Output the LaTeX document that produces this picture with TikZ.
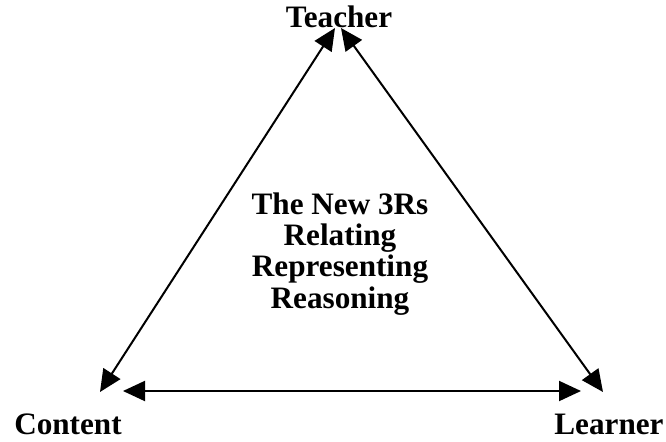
\documentclass[tikz,border=0pt]{standalone}
\usepackage{fontspec}
\setmainfont{Liberation Serif}
\usetikzlibrary{arrows.meta}
\begin{document}
\begin{tikzpicture}[x=0.5pt, y=-0.5pt, line width=1pt,
    every node/.append style={inner sep=0pt, font=\fontsize{15.6}{15.6}\selectfont\bfseries},
    rel/.style={{Triangle[length=11pt,width=10pt]}-{Triangle[length=11pt,width=10pt]}}]
  \useasboundingbox (0,0) rectangle (666,441);
  \node[anchor=base] (teacher) at (339,27) {Teacher};
  \node[anchor=base] (content) at (68,434) {Content};
  \node[anchor=base] (learner) at (609,434) {Learner};
  \node[align=center] (threers) at (340,254) {The New 3Rs\\Relating\\Representing\\Reasoning};
  % arrow tips
  \coordinate (tl) at (335,28); \coordinate (tr) at (341,28);
  \coordinate (cd) at (100,392); \coordinate (ch) at (123,391);
  \coordinate (ld) at (603,392); \coordinate (lh) at (581,391);
  \draw[rel] (cd) -- (tl);  \draw[rel] (ld) -- (tr);  \draw[rel] (ch) -- (lh);
\end{tikzpicture}
\end{document}
